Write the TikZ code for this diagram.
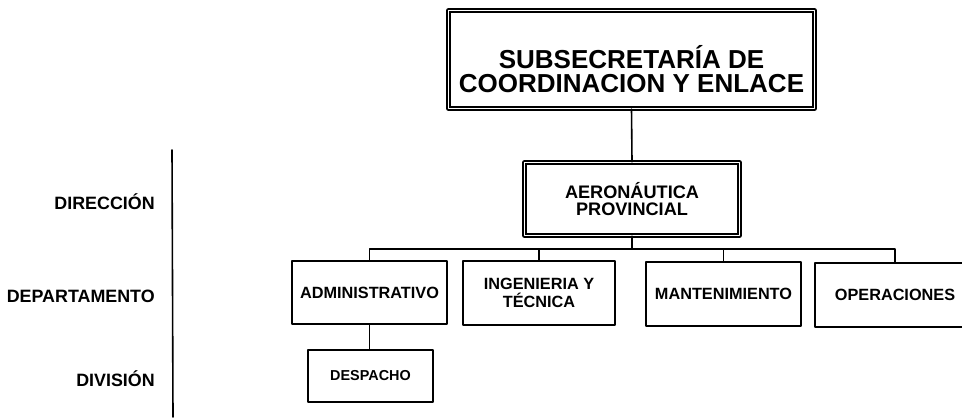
\documentclass[tikz,border=0pt]{standalone}
\usepackage{fontspec}
\setmainfont{Liberation Sans}
\begin{document}
\begin{tikzpicture}[x=0.75pt,y=0.75pt,yscale=-1, line join=round, line cap=round,
	tam/.style 2 args={minimum width=#1*0.75pt, minimum height=#2*0.75pt},
	linea/.style={line width=1.2pt},
	caja/.style={draw, linea, inner sep=0pt, align=center, font=\fontsize{12.2}{13.5}\selectfont\bfseries},
	cajadoble/.style={caja, double, double distance=1.3pt, line width=1.1pt},
	nivel/.style={anchor=east, inner sep=0pt, font=\fontsize{13.4}{14}\selectfont\bfseries}]
	\useasboundingbox (0,0) rectangle (962,417);
	%\draw[color=gray!50,dashed] (0,0) grid[step=50] (962,417);
	% niveles
	\node[nivel] (ndir) at (155,202) {DIRECCIÓN};
	\node[nivel] (ndep) at (155,296) {DEPARTAMENTO};
	\node[nivel] (ndiv) at (155,379) {DIVISIÓN};
	\draw[linea] (172,150)--(173,417);
	% cajas
	\node[cajadoble, tam={366}{98}, text height=48.8pt, text depth=0pt, font=\fontsize{19.5}{18}\selectfont\bfseries] (sub) at (631.5,59.5) {SUBSECRETARÍA DE\\COORDINACION Y ENLACE};
	\node[cajadoble, tam={215}{73}, font=\fontsize{13.6}{12.8}\selectfont\bfseries] (dir) at (632,199) {AERONÁUTICA\\PROVINCIAL};
	\node[caja, tam={155}{63}] (adm) at (369.5,292.5) {ADMINISTRATIVO};
	\node[caja, tam={152}{64}] (ing) at (539,293) {INGENIERIA Y\\TÉCNICA};
	\node[caja, tam={155}{64}] (man) at (723.5,294) {MANTENIMIENTO};
	\node[caja, tam={160}{64}] (ope) at (895,295) {OPERACIONES};
	\node[caja, tam={125}{52}, font=\fontsize{10.8}{12}\selectfont\bfseries] (des) at (370.5,376) {DESPACHO};
	% lineas
	\coordinate (bus) at (632,249);
	\draw[linea] (sub.south)--(dir.north);
	\draw[linea] (dir.south)--(bus);
	\draw[linea] (adm.north) |- (bus) -| (ope.north);
	\draw[linea] (ing.north)--(ing.north |- bus);
	\draw[linea] (man.north)--(man.north |- bus);
	\draw[linea] (adm.south)--(adm.south |- des.north);
\end{tikzpicture}
\end{document}
